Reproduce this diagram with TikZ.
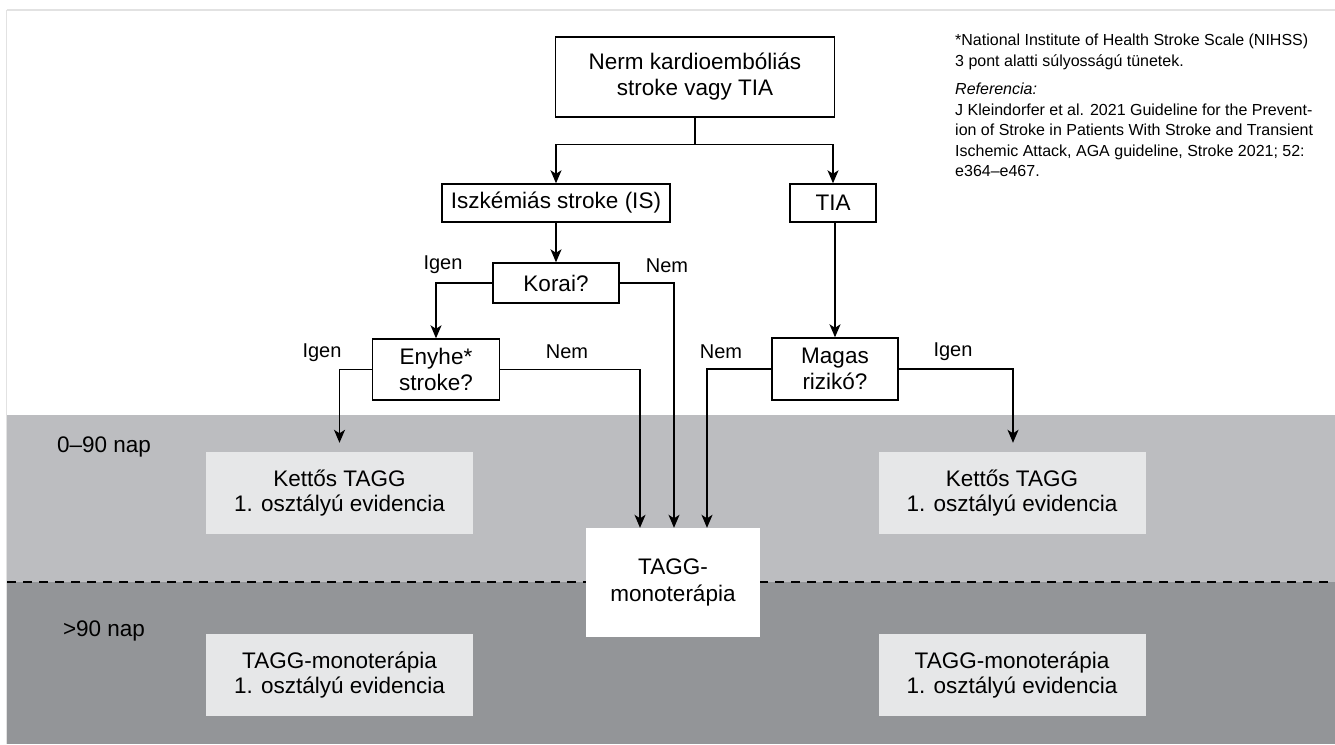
\documentclass[tikz,border=0pt]{standalone}
\usepackage{fontspec}
\setmainfont{Liberation Sans}
\usetikzlibrary{arrows.meta}
\definecolor{bandlight}{HTML}{BCBDC0}
\definecolor{banddark}{HTML}{939598}
\definecolor{boxfill}{HTML}{E6E7E8}
\definecolor{framegray}{HTML}{E2E2E2}
\tikzset{
  dbox/.style={draw=black, line width=1.4pt, fill=white, inner sep=0pt, align=center,
    font=\fontsize{22.5}{26}\selectfont},
  gbox/.style={fill=boxfill, inner sep=0pt, align=center, minimum width=267pt, minimum height=82pt,
    font=\fontsize{22.5}{25}\selectfont},
  lbl/.style={font=\fontsize{20}{24}\selectfont, inner sep=0pt},
  conn/.style={line width=1.4pt},
  arr/.style={line width=1.4pt, -{Stealth[length=13pt,width=11pt,inset=3.5pt]}},
}
\begin{document}
\begin{tikzpicture}[x=1pt,y=-1pt]
\useasboundingbox (0,0) rectangle (1335,744);
% frame and bands
\draw[framegray, line width=1.5pt] (6.5,10) -- (1340,10);
\draw[framegray, line width=1.5pt] (6.5,10) -- (6.5,744);
\fill[bandlight] (7,415) rectangle (1335,582);
\fill[banddark] (7,582) rectangle (1335,744);
\draw[line width=1.3pt, dash pattern=on 9pt off 7pt] (7,582) -- (1335,582);
\node[font=\fontsize{22.5}{26}\selectfont] (lab1) at (104,447) {0–90 nap};
\node[font=\fontsize{22.5}{26}\selectfont] (lab2) at (104,631) {>90 nap};

% nodes
\node[dbox, minimum width=279pt, minimum height=80pt] (top) at (695,77) {Nerm kardioembóliás\\stroke vagy TIA};
\node[dbox, minimum width=228pt, minimum height=38pt] (isch) at (556,203) {Iszkémiás stroke (IS)};
\node[dbox, minimum width=86pt, minimum height=38pt] (tia) at (833,203) {TIA};
\node[dbox, minimum width=126pt, minimum height=40pt] (korai) at (556,283) {Korai?};
\node[dbox, minimum width=127pt, minimum height=61pt] (enyhe) at (436,369.5) {Enyhe*\\stroke?};
\node[dbox, minimum width=126pt, minimum height=62pt] (magas) at (835,369) {Magas\\rizikó?};
\node[fill=white, inner sep=0pt, align=center, minimum width=174pt, minimum height=109pt,
  font=\fontsize{22.5}{27}\selectfont] (tagg) at (673,582.5) {TAGG-\\monoterápia};
\node[gbox] (k1) at (339.5,493) {Kettős TAGG\\1. osztályú evidencia};
\node[gbox] (k2) at (1012,493) {Kettős TAGG\\1. osztályú evidencia};
\node[gbox] (m1) at (339.5,675) {TAGG-monoterápia\\1. osztályú evidencia};
\node[gbox] (m2) at (1012,675) {TAGG-monoterápia\\1. osztályú evidencia};

% connectors
\draw[conn] (top.south) -- ++(0,27) coordinate (sp);
\draw[arr] (sp) -| (isch.north);
\draw[arr] (sp) -| (tia.north);
\draw[arr] (isch.south) -- (korai.north);
\draw[arr] (tia.south -| magas.north) -- (magas.north);
\draw[arr] (korai.west) -| (enyhe.north);
\draw[arr] (korai.east) -| ([xshift=1pt]tagg.north);
\draw[arr] (enyhe.east) -| ([xshift=-33pt]tagg.north);
\draw[arr] (magas.west) -| ([xshift=34pt]tagg.north);
\draw[arr] (enyhe.west) -| ([yshift=9pt]k1.north);
\draw[arr] (magas.east) -| ([yshift=9pt,xshift=1pt]k2.north);

% labels
\node[lbl] (l1) at (443,265) {Igen};
\node[lbl] (l2) at (667,266) {Nem};
\node[lbl] (l3) at (322,353) {Igen};
\node[lbl] (l4) at (567,352) {Nem};
\node[lbl] (l5) at (721,352) {Nem};
\node[lbl] (l6) at (953,352) {Igen};

% footnote
\node[anchor=north west, align=left, inner sep=0pt, font=\fontsize{16}{19.5}\selectfont] (fn) at (955,34)
{*National Institute of Health Stroke Scale (NIHSS)\\[1pt]
3 pont alatti súlyosságú tünetek.\\[9pt]
\textit{Referencia:}\\[1pt]
J Kleindorfer et al. 2021 Guideline for the Prevent-\\[1pt]
ion of Stroke in Patients With Stroke and Transient\\[1pt]
Ischemic  Attack, AGA guideline, Stroke 2021; 52:\\[1pt]
e364–e467.};
\end{tikzpicture}
\end{document}
